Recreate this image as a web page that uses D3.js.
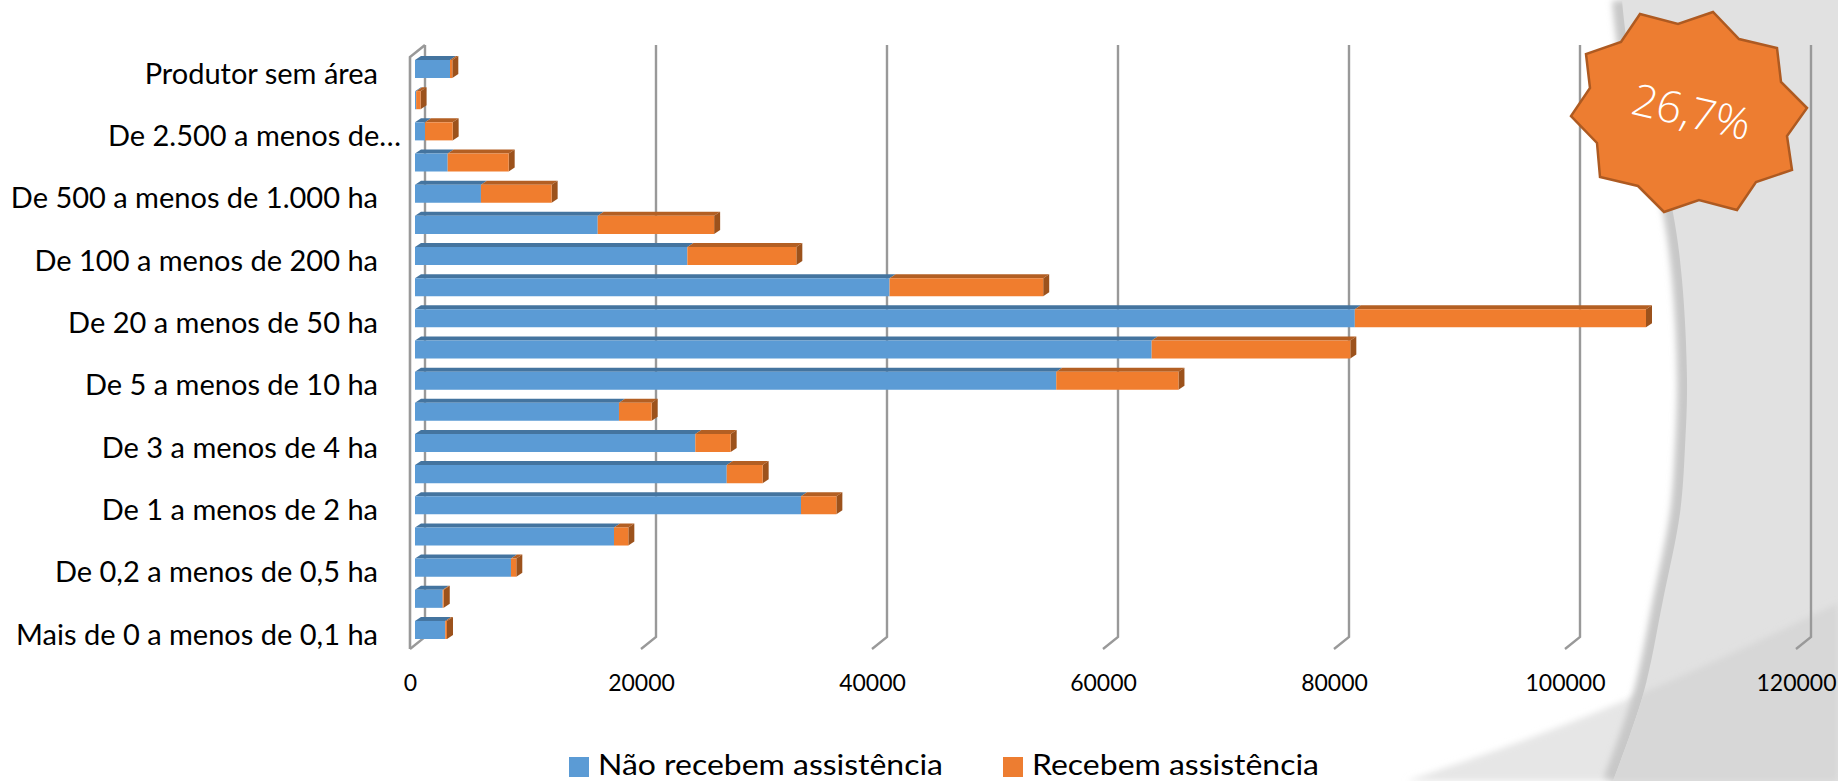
<!DOCTYPE html>
<html>
<head>
<meta charset="utf-8">
<script src="https://cdn.jsdelivr.net/npm/d3@7"></script>
<style>
  html, body { margin: 0; padding: 0; background: #fff; }
  svg { display: block; }
  text { font-family: Lato, "Open Sans", sans-serif; fill: #000; }
</style>
</head>
<body>
<div id="chart"></div>
<script>
var svgWidth = 1838;
var svgHeight = 781;

// top to bottom, every second label is skipped by the axis like in the original
var categories = [
  "Produtor sem área", "De 10.000 ha e mais", "De 2.500 a menos de…", "De 1.000 a menos de 2.500 ha",
  "De 500 a menos de 1.000 ha", "De 200 a menos de 500 ha", "De 100 a menos de 200 ha", "De 50 a menos de 100 ha",
  "De 20 a menos de 50 ha", "De 10 a menos de 20 ha", "De 5 a menos de 10 ha", "De 4 a menos de 5 ha",
  "De 3 a menos de 4 ha", "De 2 a menos de 3 ha", "De 1 a menos de 2 ha", "De 0,5 a menos de 1 ha",
  "De 0,2 a menos de 0,5 ha", "De 0,1 a menos de 0,2 ha", "Mais de 0 a menos de 0,1 ha"
];
var naoRecebem = [3030, 100, 870, 2830, 5710, 15820, 23580, 41090, 81370, 63780, 55520, 17660, 24270, 26990, 33420, 17230, 8310, 2400, 2620];
var recebem = [200, 380, 2390, 5280, 6120, 10080, 9435, 13300, 25210, 17200, 10580, 2830, 3060, 3110, 3060, 1240, 460, 90, 150];
var xTicks = [0, 20000, 40000, 60000, 80000, 100000, 120000];
var legendLabels = ["Não recebem assistência", "Recebem assistência"];
var badgeText = "26,7%";

var blue = "#5b9bd5", orange = "#f07d2e";
var blueTop = "#44749f", orangeTop = "#b35f23";
var orangeSide = "#9c521c";

var svg = d3.select("#chart").append("svg")
  .attr("width", svgWidth)
  .attr("height", svgHeight);

var defs = svg.append("defs");
defs.append("filter").attr("id", "soft")
  .attr("filterUnits", "userSpaceOnUse")
  .attr("x", 1300).attr("y", -50).attr("width", 700).attr("height", 900)
  .append("feGaussianBlur").attr("stdDeviation", 3);

// slide background, the two curved panels on the right
var edgeA = [[1622, 0], [1630, 60], [1655, 140], [1673, 213], [1682, 280], [1687, 380], [1685, 447], [1680, 513], [1663, 600], [1643, 695], [1613, 781]];
var edgeB = [[1407, 781], [1530, 738], [1645, 692], [1750, 645], [1838, 603]];
var curve = d3.line().curve(d3.curveCatmullRom);
var panelA = curve(edgeA) + " L1838,781 L1838,0 Z";
var panelB = curve(edgeB) + " L1838,781 Z";

defs.append("clipPath").attr("id", "panelClip")
  .append("path").attr("d", panelA);

var bg = svg.append("g");
bg.append("path").attr("d", panelB).attr("fill", "#e6e6e6").attr("filter", "url(#soft)");
bg.append("path").attr("d", curve(edgeA))
  .attr("fill", "none").attr("stroke", "#c8c8c8").attr("stroke-width", 20)
  .attr("filter", "url(#soft)");
bg.append("path").attr("d", panelA).attr("fill", "#e1e1e1");
bg.append("g").attr("clip-path", "url(#panelClip)")
  .append("path").attr("d", panelB).attr("fill", "#d7d7d7").attr("filter", "url(#soft)");

// scales: x is on the back wall, the bars and the labels sit on the front plane
var xScale = d3.scaleLinear().domain([0, 120000]).range([425, 1811]);
var depthX = 15, depthY = 12;
var barOffset = -10;

var yScale = d3.scaleBand()
  .domain(categories)
  .range([55, 644])
  .paddingInner(0.42)
  .paddingOuter(0.16);

// gridlines with the little floor tick
var grid = svg.append("g").attr("fill", "none").attr("stroke", "#999").attr("stroke-width", 2.4);
var wallTop = 45, wallBottom = 637;
grid.selectAll("path.wall")
  .data(xTicks)
  .enter()
  .append("path")
  .attr("class", "wall")
  .attr("d", function(d) {
    var x = xScale(d);
    return "M" + x + "," + wallTop + " L" + x + "," + wallBottom + " L" + (x - depthX) + "," + (wallBottom + depthY);
  });
// front edge of the side wall
grid.append("path")
  .attr("d", "M" + (xScale(0) - depthX) + "," + (wallBottom + depthY) + " L" + (xScale(0) - depthX) + "," + (wallTop + depthY) + " L" + xScale(0) + "," + wallTop)
  .attr("stroke-width", 2.6);

// axes, only used for their text
var xAxis = d3.axisBottom(xScale).tickValues(xTicks).tickSize(0).tickPadding(0).tickFormat(d3.format("d"));
var xAxisG = svg.append("g")
  .attr("transform", "translate(" + (-depthX) + ", 684)")
  .call(xAxis);
xAxisG.select(".domain").remove();
xAxisG.selectAll("text").style("font-size", "23px").style("font-family", "Lato").attr("dy", "0.3em");

var yAxis = d3.axisLeft(yScale).tickSize(0).tickPadding(0)
  .tickFormat(function(d, i) { return i % 2 === 0 ? d : ""; });
var yAxisG = svg.append("g")
  .attr("transform", "translate(378, 5.5)")
  .call(yAxis);
yAxisG.select(".domain").remove();
yAxisG.selectAll("text")
  .style("font-size", "29px")
  .style("font-family", "Lato")
  .attr("dx", function(d) { return d.slice(-1) === "…" ? 23 : 0; });

// stacked 3d bars
var rows = categories.map(function(c, i) {
  return { cat: c, a: naoRecebem[i], b: recebem[i] };
});
var dx = 6, dy = 4;
var barsG = svg.append("g");

function facePts(x0, x1, y, h) {
  return [[x0, y], [x1, y], [x1, y + h], [x0, y + h]];
}
function topPts(x0, x1, y) {
  return [[x0, y], [x0 + dx, y - dy], [x1 + dx, y - dy], [x1, y]];
}
function sidePts(x1, y, h) {
  return [[x1, y], [x1 + dx, y - dy], [x1 + dx, y + h - dy], [x1, y + h]];
}
function pts(p) { return p.join(" "); }

var barG = barsG.selectAll("g")
  .data(rows)
  .enter()
  .append("g");

barG.each(function(d) {
  var g = d3.select(this);
  var y = yScale(d.cat);
  var h = yScale.bandwidth();
  var x0 = xScale(0) + barOffset;
  var x1 = xScale(d.a) + barOffset;
  var x2 = xScale(d.a + d.b) + barOffset;
  g.append("polygon").attr("points", pts(topPts(x0, x1, y))).attr("fill", blueTop);
  g.append("polygon").attr("points", pts(topPts(x1, x2, y))).attr("fill", orangeTop);
  g.append("polygon").attr("points", pts(sidePts(x2, y, h))).attr("fill", orangeSide);
  g.append("polygon").attr("points", pts(facePts(x0, x1, y, h))).attr("fill", blue);
  g.append("polygon").attr("points", pts(facePts(x1, x2, y, h))).attr("fill", orange);
});

// legend
var legend = svg.append("g");
var legendX = [569, 1003];
var legendW = [345, 287];
var legendColor = [blue, "#ed7d31"];
legendLabels.forEach(function(name, i) {
  legend.append("rect")
    .attr("x", legendX[i]).attr("y", 757)
    .attr("width", 20).attr("height", 20)
    .attr("fill", legendColor[i]);
  legend.append("text")
    .attr("x", legendX[i] + 29).attr("y", 775)
    .attr("textLength", legendW[i])
    .attr("lengthAdjust", "spacingAndGlyphs")
    .style("font-size", "28px")
    .text(name);
});

// badge
var badgePts = [
  [1640, 14], [1678, 24], [1713, 12], [1739, 39], [1777, 48], [1781, 82], [1807, 108],
  [1787, 136], [1792, 170], [1756, 182], [1737, 210], [1699, 200], [1664, 212], [1638, 186],
  [1600, 177], [1597, 143], [1571, 116], [1590, 88], [1586, 54], [1621, 42]
];
svg.append("polygon")
  .attr("points", badgePts.join(" "))
  .attr("fill", "#ed7d31")
  .attr("stroke", "#ae5a21")
  .attr("stroke-width", 2.5);
svg.append("text")
  .attr("transform", "translate(1688, 127) rotate(13)")
  .attr("text-anchor", "middle")
  .style("font-family", "'Open Sans'")
  .style("font-weight", 300)
  .style("font-size", "44px")
  .style("fill", "#fff")
  .text(badgeText);
</script>
</body>
</html>
